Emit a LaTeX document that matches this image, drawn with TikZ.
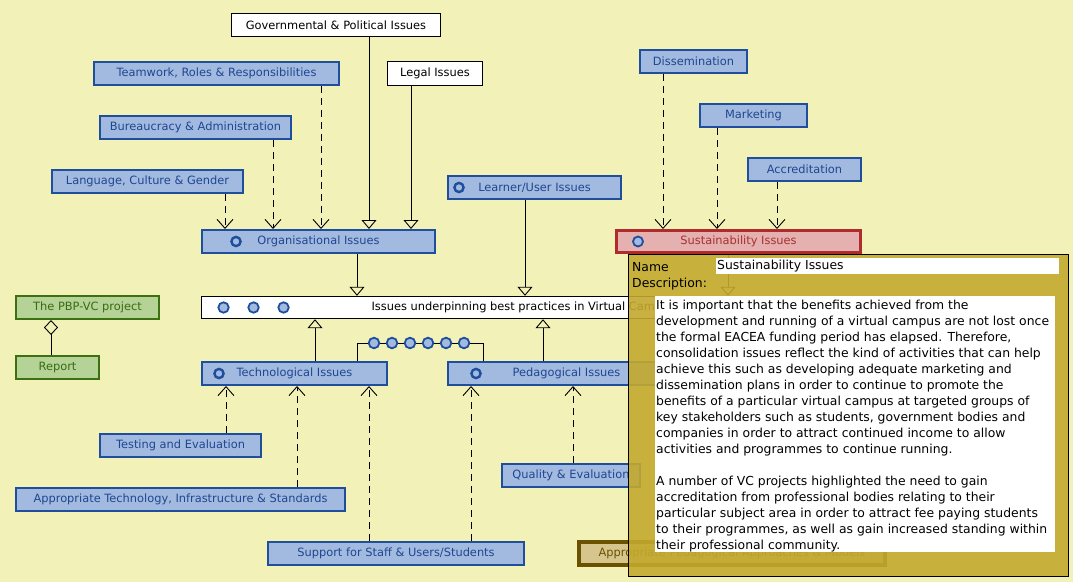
\documentclass[tikz,border=0pt]{standalone}
\usepackage{fontspec}
\setmainfont{DejaVu Sans}
\usetikzlibrary{arrows.meta}
\definecolor{bg}{HTML}{F2F1B7}
\definecolor{bluefill}{HTML}{A3BAE0}
\definecolor{blueline}{HTML}{1F4F9C}
\definecolor{bluetext}{HTML}{1E4690}
\definecolor{greenfill}{HTML}{B5D396}
\definecolor{greenline}{HTML}{3D7010}
\definecolor{greentext}{HTML}{3A6B12}
\definecolor{redfill}{HTML}{E4B0B0}
\definecolor{redline}{HTML}{B02C2C}
\definecolor{redtext}{HTML}{A83030}
\definecolor{tanfill}{HTML}{D6C68E}
\definecolor{tanline}{HTML}{6B5200}
\definecolor{popfill}{HTML}{C3A92E}
\tikzset{
  box/.style={draw, rectangle, inner sep=0pt, font=\fontsize{11.4}{13}\selectfont},
  bluebox/.style={box, fill=bluefill, draw=blueline, line width=2.4pt, text=bluetext},
  whitebox/.style={box, fill=white, draw=black, line width=0.9pt, text=black},
  greenbox/.style={box, fill=greenfill, draw=greenline, line width=2.4pt, text=greentext},
  redbox/.style={box, fill=redfill, draw=redline, line width=3pt, text=redtext},
  tanbox/.style={box, fill=tanfill, draw=tanline, line width=4pt, text=tanline},
  dep/.style={draw=black, line width=0.9pt, dash pattern=on 7pt off 5pt, -{Straight Barb[length=9pt,width=16pt]}},
  gen/.style={draw=black, line width=0.9pt, -{Triangle[open,length=9pt,width=15pt]}},
  plain/.style={draw=black, line width=0.9pt},
  icon/.style={draw=blueline, line width=2.4pt, fill=bluefill},
  dot/.style={draw=blueline, line width=1.8pt, fill=bluefill},
  poptext/.style={inner sep=0pt, text=black, font=\fontsize{12.4}{16}\selectfont},
}
\begin{document}
\begin{tikzpicture}[x=1pt,y=-1pt]
\useasboundingbox (0,0) rectangle (1073,582);
\fill[bg] (0,0) rectangle (1073,582);

% x positions of connectors
\foreach \n/\x in {xa/225,xb/273,xc/321,xd/369,xe/411,xf/357,xg/525,xh/728,xi/315,xj/543,
                   xk/226,xl/297,xm/369,xn/471,xo/573,xp/663,xq/717,xr/777,xs/51}
  \coordinate (\n) at (\x,0);

% white boxes
\node[whitebox, minimum width=209, minimum height=23] (gov) at (336,25) {Governmental \& Political Issues};
\node[whitebox, minimum width=95, minimum height=24] (legal) at (435,73.5) {Legal Issues};
\node[whitebox, minimum width=645, minimum height=22.5] (issues) at (523.5,307.5) {Issues underpinning best practices in Virtual Campus};

% blue boxes
\node[bluebox, minimum width=244.6, minimum height=22.6] (team) at (216.5,73.5) {Teamwork, Roles \& Responsibilities};
\node[bluebox, minimum width=190.6, minimum height=22.6] (bur) at (195.5,127.5) {Bureaucracy \& Administration};
\node[bluebox, minimum width=190.6, minimum height=22.6] (lang) at (147.5,181.5) {Language, Culture \& Gender};
\node[bluebox, minimum width=232.6, minimum height=22.6] (org) at (318.5,241.5) {Organisational Issues};
\node[bluebox, minimum width=172.6, minimum height=22.6] (learn) at (534.5,187.5) {Learner/User Issues};
\node[bluebox, minimum width=106.6, minimum height=22.6] (diss) at (693.5,61.5) {Dissemination};
\node[bluebox, minimum width=106.6, minimum height=22.6] (mark) at (753.5,115.5) {Marketing};
\node[bluebox, minimum width=112.6, minimum height=22.6] (accr) at (804.5,169.5) {Accreditation};
\node[bluebox, minimum width=184.6, minimum height=22.6] (tech) at (294.5,373.5) {Technological Issues};
\node[bluebox, minimum width=236.6, minimum height=22.6] (ped) at (566.5,373.5) {Pedagogical Issues};
\node[bluebox, minimum width=160.6, minimum height=22.6] (test) at (180.5,445.5) {Testing and Evaluation};
\node[bluebox, minimum width=328.6, minimum height=22.6] (atis) at (180.5,499.5) {Appropriate Technology, Infrastructure \& Standards};
\node[bluebox, minimum width=255.6, minimum height=22.6] (supp) at (396,553.5) {Support for Staff \& Users/Students};
\node[bluebox, minimum width=137.6, minimum height=22.6] (qual) at (571,475.5) {Quality \& Evaluation};

% green boxes
\node[greenbox, minimum width=142.6, minimum height=22.6] (pbp) at (87.5,307.5) {The PBP-VC project};
\node[greenbox, minimum width=82.6, minimum height=22.6] (report) at (57.5,367.5) {Report};

% red and tan boxes
\node[redbox, minimum width=244, minimum height=22] (sust) at (738.5,241.5) {Sustainability Issues};
\node[tanbox, minimum width=306, minimum height=23] (appm) at (732,553.5) {Appropriate Pedagogical Approaches \& Models};

% icons
\draw[icon] ([xshift=35pt]org.west) circle (4.6);
\draw[icon] ([xshift=12pt]learn.west) circle (4.6);
\draw[icon] ([xshift=18pt]tech.west) circle (4.6);
\draw[icon] ([xshift=29pt]ped.west) circle (4.6);
\draw[dot] ([xshift=23pt]sust.west) circle (5);
\foreach \d in {23,53,83} \draw[dot] ([xshift=\d pt]issues.west) circle (5.2);

% connectors into Organisational Issues
\draw[dep] (lang.south -| xa) -- (org.north -| xa);
\draw[dep] (bur.south -| xb) -- (org.north -| xb);
\draw[dep] (team.south -| xc) -- (org.north -| xc);
\draw[gen] (gov.south -| xd) -- (org.north -| xd);
\draw[gen] (legal.south -| xe) -- (org.north -| xe);

% into Issues underpinning
\draw[gen] (org.south -| xf) -- (issues.north -| xf);
\draw[gen] (learn.south -| xg) -- (issues.north -| xg);
\draw[gen] (sust.south -| xh) -- (issues.north -| xh);
\draw[gen] (tech.north -| xi) -- (issues.south -| xi);
\draw[gen] (ped.north -| xj) -- (issues.south -| xj);

% into Technological / Pedagogical
\draw[dep] (test.north -| xk) -- (tech.south -| xk);
\draw[dep] (atis.north -| xl) -- (tech.south -| xl);
\draw[dep] (supp.north -| xm) -- (tech.south -| xm);
\draw[dep] (supp.north -| xn) -- (ped.south -| xn);
\draw[dep] (qual.north -| xo) -- (ped.south -| xo);

% into Sustainability
\draw[dep] (diss.south -| xp) -- (sust.north -| xp);
\draw[dep] (mark.south -| xq) -- (sust.north -| xq);
\draw[dep] (accr.south -| xr) -- (sust.north -| xr);

% bracket between Technological and Pedagogical
\coordinate (bl) at (357,343);
\coordinate (br) at (483,343);
\draw[plain] (tech.north -| bl) -- (bl) -- (br) -- (ped.north -| br);
\foreach \i in {0,...,5} \draw[dot] (374+18*\i,343) circle (5.3);

% aggregation
\draw[plain, {Diamond[open,length=15pt,width=14pt]}-] (pbp.south -| xs) -- (report.north -| xs);

% popup
\node[draw=black, line width=1pt, fill=popfill, fill opacity=0.9, minimum width=440, minimum height=322, inner sep=0pt, anchor=north west] (pop) at (627.5,253.5) {};
\node[poptext, anchor=west] (namelbl) at (632,267) {Name};
\node[fill=white, inner sep=0pt, minimum width=343, minimum height=16, anchor=north west] (namefield) at (716,258) {};
\node[poptext, anchor=west] (nameval) at (717,266) {Sustainability Issues};
\node[poptext, anchor=west] (desclbl) at (632,284) {Description:};
\node[fill=white, inner sep=0pt, minimum width=400, minimum height=256, anchor=north west] (descfield) at (655,296) {};
\node[poptext, anchor=north west, align=left] (desctext) at (656,300) {It is important that the benefits achieved from the\\
development and running of a virtual campus are not lost once\\
the formal EACEA funding period has elapsed. Therefore,\\
consolidation issues reflect the kind of activities that can help\\
achieve this such as developing adequate marketing and\\
dissemination plans in order to continue to promote the\\
benefits of a particular virtual campus at targeted groups of\\
key stakeholders such as students, government bodies and\\
companies in order to attract continued income to allow\\
activities and programmes to continue running.\\[16pt]
A number of VC projects highlighted the need to gain\\
accreditation from professional bodies relating to their\\
particular subject area in order to attract fee paying students\\
to their programmes, as well as gain increased standing within\\
their professional community.};
\end{tikzpicture}
\end{document}
